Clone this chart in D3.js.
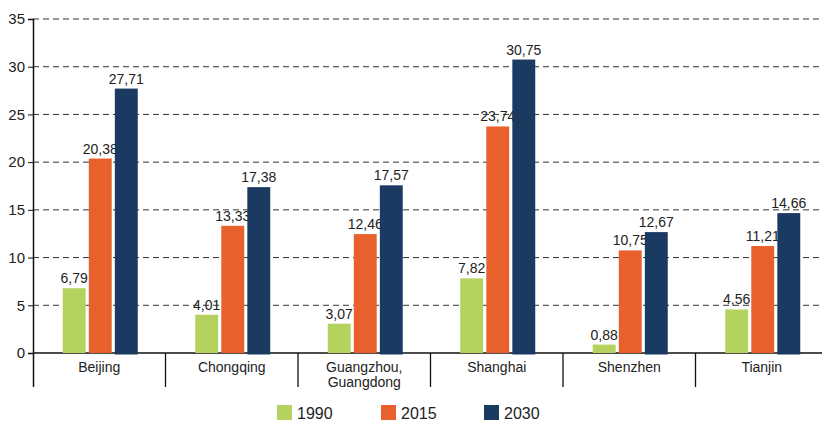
<!DOCTYPE html>
<html>
<head>
<meta charset="utf-8">
<script src="https://cdn.jsdelivr.net/npm/d3@7"></script>
<style>
  body { margin: 0; background: #fff; }
  text { font-family: "Liberation Sans", Arial, sans-serif; fill: #222; }
</style>
</head>
<body>
<svg id="chart" width="822" height="423"></svg>
<script>
// data
var cities = ["Beijing", "Chongqing", "Guangzhou, Guangdong", "Shanghai", "Shenzhen", "Tianjin"];
var years = ["1990", "2015", "2030"];
var v1990 = [6.79, 4.01, 3.07, 7.82, 0.88, 4.56];
var v2015 = [20.38, 13.33, 12.46, 23.74, 10.75, 11.21];
var v2030 = [27.71, 17.38, 17.57, 30.75, 12.67, 14.66];
var yTicks = [0, 5, 10, 15, 20, 25, 30, 35];
var colors = ["#b3d35e", "#e8602c", "#1b3a61"];

var series = [v1990, v2015, v2030];
var svg = d3.select("#chart");

var x = d3.scaleBand().domain(cities).range([33, 828]);
var y = d3.scaleLinear().domain([0, 35]).range([353, 19]);
var inner = d3.scaleBand().domain(years).range([0, 75]).paddingInner(0.12);

// gridlines
svg.append("g").selectAll("line")
  .data(yTicks.filter(function(d) { return d > 0; }))
  .enter().append("line")
  .attr("x1", 33).attr("x2", 822)
  .attr("y1", function(d) { return y(d); })
  .attr("y2", function(d) { return y(d); })
  .attr("stroke", "#333").attr("stroke-width", 1)
  .attr("stroke-dasharray", "6,4");

// y axis
var yAxis = d3.axisLeft(y).tickValues(yTicks).tickSize(5).tickPadding(3)
  .tickFormat(d3.format("d"));
var gy = svg.append("g").attr("transform", "translate(33,0)").call(yAxis);
gy.select(".domain").attr("stroke", "#111").attr("stroke-width", 1.5);
gy.selectAll(".tick line").attr("stroke", "#111");
gy.selectAll(".tick text").style("font-size", "15px").attr("fill", "#222");

// x axis line and separators
svg.append("line").attr("x1", 33).attr("x2", 822)
  .attr("y1", 353).attr("y2", 353).attr("stroke", "#111").attr("stroke-width", 1.5);
svg.append("g").selectAll("line")
  .data(cities.slice(1))
  .enter().append("line")
  .attr("x1", function(d) { return x(d); })
  .attr("x2", function(d) { return x(d); })
  .attr("y1", 353).attr("y2", 387)
  .attr("stroke", "#111").attr("stroke-width", 1.3);
svg.append("line").attr("x1", 33.5).attr("x2", 33.5)
  .attr("y1", 353).attr("y2", 387).attr("stroke", "#111").attr("stroke-width", 1.5);

// bars
var fmt = function(v) { return d3.format(".2f")(v).replace(".", ","); };
series.forEach(function(vals, si) {
  var g = svg.append("g");
  var offset = (x.bandwidth() - 75) / 2 + 1;
  g.selectAll("rect").data(vals).enter().append("rect")
    .attr("x", function(d, i) { return x(cities[i]) + offset + inner(years[si]); })
    .attr("y", function(d) { return y(d); })
    .attr("width", inner.bandwidth())
    .attr("height", function(d) { return y(0) - y(d) + (si === 2 ? 1.5 : 0); })
    .attr("fill", colors[si]);
  g.selectAll("text").data(vals).enter().append("text")
    .attr("x", function(d, i) { return x(cities[i]) + offset + inner(years[si]) + inner.bandwidth() / 2; })
    .attr("y", function(d) { return y(d) - 5; })
    .attr("text-anchor", "middle")
    .style("font-size", "14px")
    .text(fmt);
});

// category labels
svg.append("g").selectAll("text")
  .data(cities).enter().append("text")
  .attr("x", function(d) { return x(d) + x.bandwidth() / 2; })
  .attr("y", 372)
  .attr("text-anchor", "middle")
  .style("font-size", "14px")
  .each(function(d) {
    var parts = d.indexOf(",") > 0 ? [d.split(", ")[0] + ",", d.split(", ")[1]] : [d];
    var t = d3.select(this);
    parts.forEach(function(p, k) {
      t.append("tspan").attr("x", x(d) + x.bandwidth() / 2).attr("dy", k === 0 ? 0 : 15).text(p);
    });
  });

// legend
var legX = [277, 381, 484];
var leg = svg.append("g").selectAll("g").data(years).enter().append("g")
  .attr("transform", function(d, i) { return "translate(" + legX[i] + ",405)"; });
leg.append("rect").attr("width", 15).attr("height", 15)
  .attr("fill", function(d, i) { return colors[i]; });
leg.append("text").attr("x", 20).attr("y", 14).style("font-size", "16px").text(function(d) { return d; });
</script>
</body>
</html>
